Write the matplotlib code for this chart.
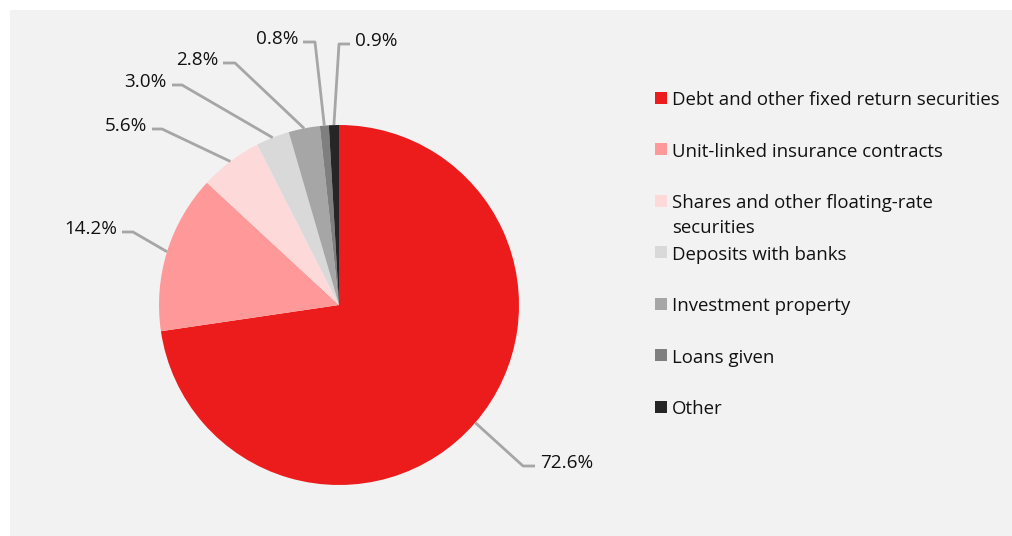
import numpy as np
import matplotlib
matplotlib.use("Agg")
import matplotlib.pyplot as plt
from matplotlib.patches import Rectangle

plt.rcParams['font.family'] = ['Open Sans', 'DejaVu Sans']

# data
categories = ["Debt and other fixed return securities",
              "Unit-linked insurance contracts",
              "Shares and other floating-rate\nsecurities",
              "Deposits with banks",
              "Investment property",
              "Loans given",
              "Other"]
shares = [72.6, 14.2, 5.6, 3.0, 2.8, 0.8, 0.9]
pct_labels = ["72.6%", "14.2%", "5.6%", "3.0%", "2.8%", "0.8%", "0.9%"]
colors = ["#ed1c1c", "#ff9999", "#fdd9d9", "#d9d9d9", "#a6a6a6", "#7f7f7f", "#262626"]

# label layout (pixels, y from top): elbow x, elbow y, end x, text side
elbows = [(523, 466, 535, 'left'),
          (133, 232, 122, 'right'),
          (162, 129, 152, 'right'),
          (182, 85, 172, 'right'),
          (235, 63, 223, 'right'),
          (315, 42, 303, 'right'),
          (339, 44, 350, 'left')]

W, H = 1012, 536
fig = plt.figure(figsize=(10.1201, 5.3601), dpi=100)
fig.patch.set_facecolor('white')
fig.patches.append(Rectangle((10 / W, -0.1), 1.1, 1.1 - 10 / H, transform=fig.transFigure,
                             facecolor='#f2f2f2', edgecolor='none', zorder=-5))

ax = fig.add_axes([0, 0, 1, 1])
ax.patch.set_alpha(0)

cx, cy, R = 339, H - 305, 180
wedges, _ = ax.pie(shares, colors=colors, startangle=90, counterclock=False,
                   center=(cx, cy), radius=R, frame=True,
                   wedgeprops=dict(linewidth=0))
ax.set_xlim(0, W)
ax.set_ylim(0, H)
ax.axis('off')

for w, lab, (ex, ey, tx, side) in zip(wedges, pct_labels, elbows):
    ang = np.deg2rad((w.theta1 + w.theta2) / 2)
    x0, y0 = cx + R * np.cos(ang), cy + R * np.sin(ang)
    ey = H - ey
    ax.plot([x0, ex, tx], [y0, ey, ey], color='#a6a6a6', lw=2, solid_capstyle='butt')
    if side == 'left':
        ax.text(tx + 5, ey + 3, lab, ha='left', va='center', fontsize=13.6, color='#111111')
    else:
        ax.text(tx - 5, ey + 3, lab, ha='right', va='center', fontsize=13.6, color='#111111')

# legend
ly0 = 98
step = 51.5
for i, (cat, col) in enumerate(zip(categories, colors)):
    y = H - (ly0 + i * step)
    ax.add_patch(Rectangle((655, y - 6), 12, 12, facecolor=col, edgecolor='none'))
    ax.text(672, y + 7, cat, ha='left', va='top', fontsize=13.4, color='#111111',
            linespacing=1.5)

fig.savefig("out.png", dpi=100)
